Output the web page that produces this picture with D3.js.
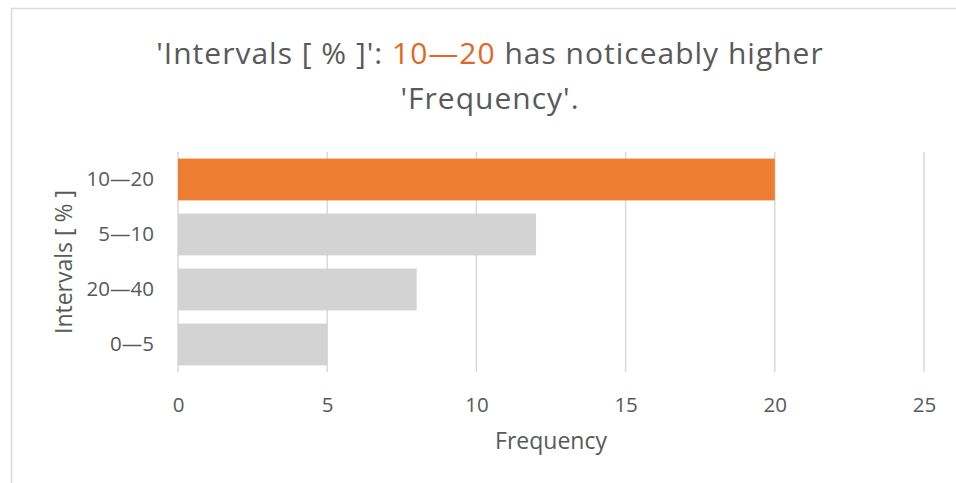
<!DOCTYPE html>
<html>
<head>
<meta charset="utf-8">
<script src="https://cdn.jsdelivr.net/npm/d3@7"></script>
<style>
  body { margin: 0; background: #fff; }
  text { font-family: "Open Sans", Lato, sans-serif; fill: #595959; }
</style>
</head>
<body>
<div class="chart"></div>
<script>
// Chart data
let categories = ["10—20", "5—10", "20—40", "0—5"];
let frequency = [20, 12, 8, 5];
let highlight = "10—20";
let xTicks = [0, 5, 10, 15, 20, 25];

let svgWidth = 956;
let svgHeight = 483;

let margin = { top: 152, right: 32, bottom: 111, left: 178 };
let width = svgWidth - margin.left - margin.right;
let height = svgHeight - margin.top - margin.bottom;

let svg = d3.select(".chart")
    .append("svg")
    .attr("width", svgWidth)
    .attr("height", svgHeight);

// outer chart border (clipped at right and bottom)
svg.append("rect")
    .attr("x", 11.5)
    .attr("y", 8.5)
    .attr("width", 1000)
    .attr("height", 1000)
    .attr("fill", "none")
    .attr("stroke", "#d9d9d9")
    .attr("stroke-width", 1.5);

// Title
let title = svg.append("text")
    .attr("x", 490)
    .attr("y", 64)
    .attr("text-anchor", "middle")
    .style("font-size", "30px")
    .style("letter-spacing", "1px");
title.append("tspan").text("'Intervals [ % ]': ");
title.append("tspan").style("fill", "#E5661F").text(highlight);
title.append("tspan").text(" has noticeably higher");
svg.append("text")
    .attr("x", 490)
    .attr("y", 109)
    .attr("text-anchor", "middle")
    .style("font-size", "30px")
    .style("letter-spacing", "1px")
    .text("'Frequency'.");

let chartGroup = svg.append("g")
    .attr("transform", `translate(${margin.left}, ${margin.top})`);

let xLinearScale = d3.scaleLinear()
    .domain([0, 25])
    .range([0, width]);

let yBandScale = d3.scaleBand()
    .domain(categories)
    .range([0, height])
    .paddingInner(0.24)
    .paddingOuter(0.12);

// gridlines
chartGroup.append("g")
    .selectAll("line")
    .data(xTicks)
    .enter()
    .append("line")
    .attr("x1", d => xLinearScale(d))
    .attr("x2", d => xLinearScale(d))
    .attr("y1", 0)
    .attr("y2", height)
    .attr("stroke", "#d9d9d9")
    .attr("stroke-width", 1.5);

// bars
chartGroup.selectAll("rect.bar")
    .data(categories)
    .enter()
    .append("rect")
    .attr("class", "bar")
    .attr("x", xLinearScale(0))
    .attr("y", d => yBandScale(d))
    .attr("width", (d, i) => xLinearScale(frequency[i]) - xLinearScale(0))
    .attr("height", yBandScale.bandwidth())
    .attr("fill", d => d === highlight ? "#ED7D31" : "#D3D3D3");

// X axis
let bottomAxis = d3.axisBottom(xLinearScale).tickValues(xTicks).tickSize(0).tickPadding(25);
let xAxis = chartGroup.append("g")
    .attr("transform", `translate(0, ${height})`)
    .call(bottomAxis);
xAxis.select(".domain").remove();
xAxis.selectAll("text").style("font-size", "20.5px").style("font-family", "'Open Sans', sans-serif").style("fill", "#595959");

// Y axis
let leftAxis = d3.axisLeft(yBandScale).tickSize(0).tickPadding(24);
let yAxis = chartGroup.append("g").call(leftAxis);
yAxis.select(".domain").remove();
yAxis.selectAll("text").style("font-size", "20.5px").style("font-family", "'Open Sans', sans-serif").style("fill", "#595959");

// axis titles
chartGroup.append("text")
    .attr("x", width / 2)
    .attr("y", height + 77)
    .attr("text-anchor", "middle")
    .style("font-size", "23px")
    .text("Frequency");

chartGroup.append("text")
    .attr("transform", "rotate(-90)")
    .attr("x", -height / 2)
    .attr("y", -106)
    .attr("text-anchor", "middle")
    .style("font-size", "23px")
    .text("Intervals [ % ]");
</script>
</body>
</html>
